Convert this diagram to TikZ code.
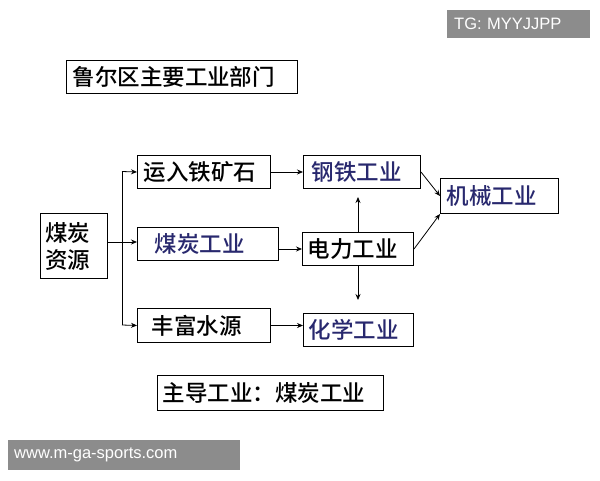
\documentclass[tikz,border=0pt]{standalone}
\usepackage{fontspec}
\newfontfamily\cjk{Noto Sans CJK SC Medium}
\setsansfont{Liberation Sans}
\usetikzlibrary{arrows.meta}
\definecolor{bluetxt}{RGB}{40,40,110}
\begin{document}
\begin{tikzpicture}[x=1pt,y=-1pt,
  box/.style={draw,line width=1pt,inner sep=0pt,font=\cjk\fontsize{22.5}{25}\selectfont,anchor=north west,text width=#1,align=left},
  box/.default=100pt,
  arr/.style={-{Stealth[length=6pt,width=5pt]},line width=0.8pt},
  ln/.style={line width=0.8pt},
  wm/.style={fill=black!45,text=white,font=\sffamily\fontsize{16.5}{18}\selectfont,inner sep=0pt,anchor=north west,align=left}]
\useasboundingbox (0,0) rectangle (600,480);
\fill[white] (0,0) rectangle (600,480);
\node[box=229pt,minimum width=231,minimum height=33] (t) at (66,60) {\hspace*{5pt}鲁尔区主要工业部门};
\node[box=65pt,minimum width=67,minimum height=65,font=\cjk\fontsize{22.5}{27}\selectfont] (c) at (40,213) {\hspace*{4pt}煤炭\\\hspace*{4pt}资源};
\node[box=131pt,minimum width=133,minimum height=33] (a1) at (137,155) {\hspace*{5pt}运入铁矿石};
\node[box=139pt,minimum width=141,minimum height=33,text=bluetxt] (a2) at (137,227) {\hspace*{16pt}煤炭工业};
\node[box=131pt,minimum width=133,minimum height=34] (a3) at (137,308) {\hspace*{13pt}丰富水源};
\node[box=115pt,minimum width=117,minimum height=33,text=bluetxt] (b1) at (303,155) {\hspace*{7pt}钢铁工业};
\node[box=109pt,minimum width=111,minimum height=33] (b2) at (302,232) {\hspace*{4pt}电力工业};
\node[box=108pt,minimum width=110,minimum height=33,text=bluetxt] (b3) at (303,313) {\hspace*{4pt}化学工业};
\node[box=116pt,minimum width=118,minimum height=35,text=bluetxt] (m) at (440,178) {\hspace*{5pt}机械工业};
\node[box=224pt,minimum width=226,minimum height=35] (z) at (157,375) {\hspace*{4pt}主导工业：煤炭工业};
\coordinate (j) at (122,242);
\draw[ln] (c.east |- j) -- (j);
\draw[ln] (122,171.5) -- (122,325);
\draw[arr] (122,171.5) -- (a1.west);
\draw[arr] (j) -- (a2.west |- j);
\draw[arr] (122,325) -- (a3.west);
\draw[arr] (a1.east) -- (b1.west |- a1.east);
\draw[arr] (a2.east |- b2.west) -- (b2.west);
\draw[arr] (a3.east) -- (b3.west |- a3.east);
\draw[arr] (b2.north -| 358,0) -- (358,197);
\draw[arr] (b2.south -| 358,0) -- (358,300);
\draw[arr] (b1.east) -- (m.west);
\draw[arr] (b2.east) -- (m.south west);
\node[wm,minimum width=143,minimum height=28,text width=143pt] (w1) at (447,10) {\hspace*{7pt}TG: MYYJJPP};
\node[wm,minimum width=232,minimum height=30,text width=232pt] (w2) at (8,440) {\hspace*{6pt}www.m-ga-sports.com};
\end{tikzpicture}
\end{document}
